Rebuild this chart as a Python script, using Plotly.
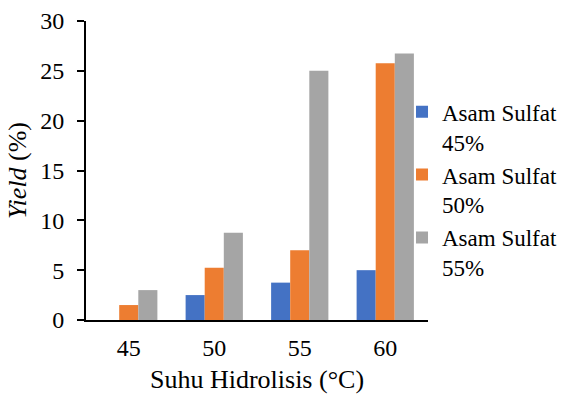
import plotly.graph_objects as go

categories = ["45", "50", "55", "60"]
series_names = ["Asam Sulfat<br>45%", "Asam Sulfat<br>50%", "Asam Sulfat<br>55%"]
asam_45 = [0, 2.5, 3.75, 5.0]
asam_50 = [1.5, 5.25, 7.0, 25.75]
asam_55 = [3.0, 8.75, 25.0, 26.75]
colors = ["#4472C4", "#ED7D31", "#A5A5A5"]

FONT = "Liberation Serif"

fig = go.Figure()
for name, vals, c in zip(series_names, [asam_45, asam_50, asam_55], colors):
    fig.add_trace(go.Bar(x=categories, y=vals, name=name, marker_color=c,
                         marker_line_width=0))

fig.update_layout(
    width=566, height=394,
    margin=dict(l=86, r=138, t=21, b=74, autoexpand=False),
    paper_bgcolor="white", plot_bgcolor="white",
    font=dict(family=FONT, size=23, color="black"),
    barmode="group", bargap=0.33, bargroupgap=0,
    showlegend=True,
    legend=dict(x=0.924, xanchor="left", y=0.768, yanchor="top", valign="top",
                font=dict(family=FONT, size=23, color="black"),
                tracegroupgap=8, itemwidth=30, bgcolor="rgba(0,0,0,0)"),
    xaxis=dict(showline=True, linecolor="black", linewidth=2, ticks="",
               tickfont=dict(family=FONT, size=24), ticklabelstandoff=5,
               showgrid=False, title=dict(text="Suhu Hidrolisis (°C)", standoff=12,
                                          font=dict(family=FONT, size=26))),
    yaxis=dict(range=[0, 30], dtick=5, showline=True, linecolor="black", linewidth=2,
               ticks="outside", ticklen=7, tickwidth=2, tickcolor="black",
               tickfont=dict(family=FONT, size=24), ticklabelstandoff=8,
               showgrid=False, zeroline=False,
               title=dict(text="<i>Yield</i> (%)", standoff=6,
                          font=dict(family=FONT, size=26))),
)

fig.write_html("out.html")
